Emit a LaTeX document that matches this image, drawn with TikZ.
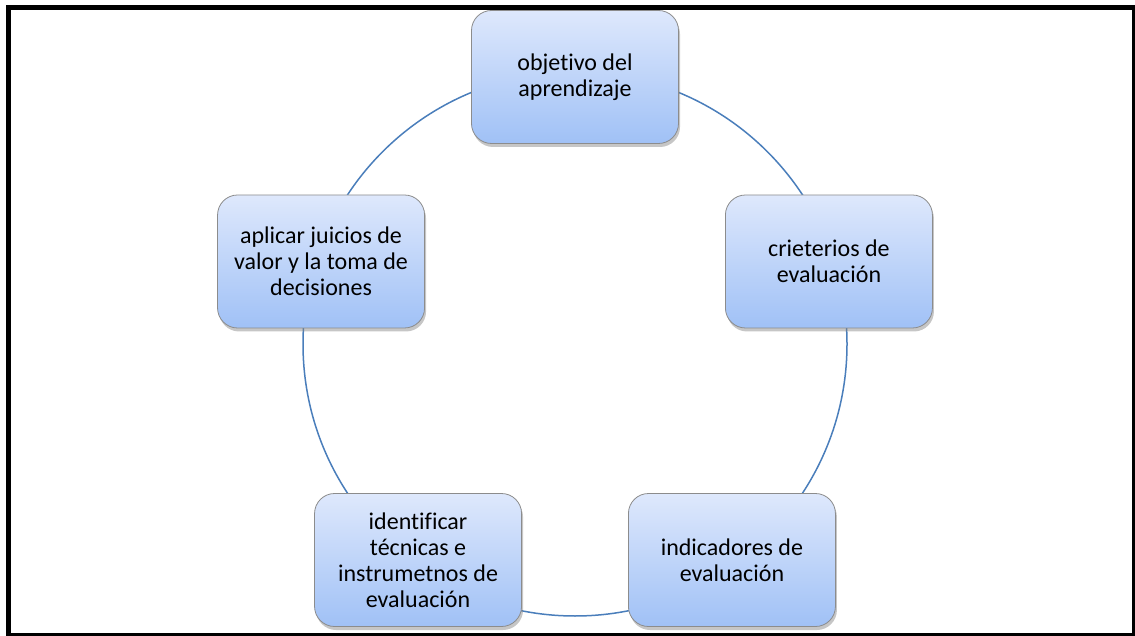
\documentclass[tikz,border=0pt]{standalone}
\usepackage{fontspec}
\setmainfont{Carlito}[Ligatures=NoCommon]
\usetikzlibrary{shadows}
\definecolor{boxtop}{RGB}{222,232,252}
\definecolor{boxbot}{RGB}{160,193,246}
\definecolor{ringblue}{RGB}{74,126,187}
\begin{document}
\begin{tikzpicture}[x=1pt,y=1pt,declare function={radio=267;},
  etapa/.style={draw=black!45,line width=0.8pt,rounded corners=20pt,
    top color=boxtop,bottom color=boxbot,
    minimum width=207pt,minimum height=133pt,align=center,
    font=\fontsize{24}{26}\selectfont,
    drop shadow={shadow xshift=1.5pt,shadow yshift=-3.5pt,opacity=0.45}},
  ciclo/.style={draw=ringblue,line width=1.5pt}]
 \useasboundingbox (0,0) rectangle (1135,635);
 \coordinate (C) at (575,291);
 % the ring runs behind the boxes
 \draw[ciclo] (C) circle (272);
 \foreach \ang/\nom/\txt in {%
   90/obj/{objetivo del\\aprendizaje},
   18/crit/{crieterios de\\evaluación},
   306/ind/{indicadores de\\evaluación},
   234/tec/{identificar\\técnicas e\\instrumetnos de\\evaluación},
   162/jui/{aplicar juicios de\\valor y la toma de\\decisiones}%
 }{%
   \path (C) ++(\ang:radio) node[etapa] (\nom) {\txt};
 }%
 \draw[line width=5pt] (8,627.5) rectangle (1134.5,-0.5);
\end{tikzpicture}
\end{document}
